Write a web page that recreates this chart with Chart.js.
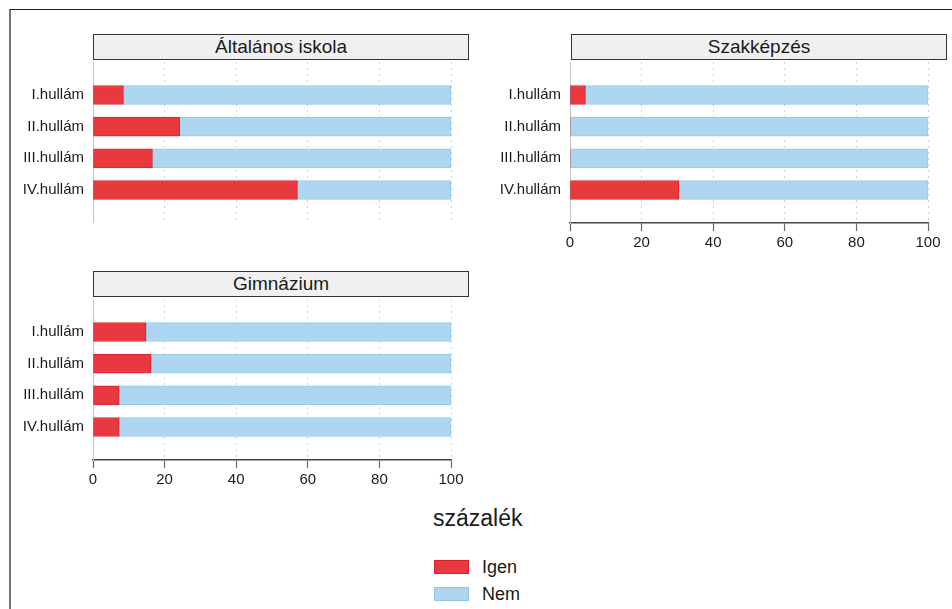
<!DOCTYPE html>
<html>
<head>
<meta charset="utf-8">
<script src="https://cdn.jsdelivr.net/npm/chart.js@4.4.1/dist/chart.umd.min.js"></script>
<style>
  body { margin: 0; background: #fff; font-family: "Liberation Sans", Arial, sans-serif; color: #1a1a1a; }
  #page { position: relative; width: 952px; height: 609px; overflow: hidden; }
  .frame { position: absolute; left: 9px; top: 9px; width: 960px; height: 620px;
           border-top: 1.5px solid #222; border-left: 2px solid #777; }
  .strip { position: absolute; height: 24px; background: #f0f0f0; border: 1.5px solid #333;
           font-size: 19px; line-height: 24px; text-align: center; box-sizing: content-box; }
  canvas { position: absolute; }
  .axis-title { position: absolute; left: 433px; top: 505px; font-size: 23px; }
  .key { position: absolute; left: 434px; width: 33px; height: 12px; }
  .key-label { position: absolute; left: 482px; font-size: 18px; }
</style>
</head>
<body>
<div id="page">
  <div class="frame"></div>

  <div class="strip" style="left:93px; top:34px; width:374px;">Általános iskola</div>
  <div class="strip" style="left:571px; top:34px; width:374px;">Szakképzés</div>
  <div class="strip" style="left:93px; top:271px; width:374px;">Gimnázium</div>

  <canvas id="altalanos" width="458" height="161" style="left:13px; top:62px;"></canvas>
  <canvas id="szakkepzes" width="458" height="201" style="left:490px; top:62px;"></canvas>
  <canvas id="gimnazium" width="458" height="201" style="left:13px; top:299px;"></canvas>

  <div class="axis-title">százalék</div>
  <div class="key" style="top:560px; background:#e8393f; border:1px solid #d8202a;"></div>
  <div class="key-label" style="top:557px;">Igen</div>
  <div class="key" style="top:587px; background:#aed6f1; border:1px solid #8ec6ee;"></div>
  <div class="key-label" style="top:584px;">Nem</div>
</div>

<script>
const waves = ['I.hullám', 'II.hullám', 'III.hullám', 'IV.hullám'];
const xTicks = [0, 20, 40, 60, 80, 100];

// share of "Igen" / "Nem" answers, percent
const altalanosIgen = [8.5, 24.2, 16.6, 57.1];
const altalanosNem = [91.5, 75.8, 83.4, 42.9];
const szakkepzesIgen = [4.3, 0, 0, 30.4];
const szakkepzesNem = [95.7, 100, 100, 69.6];
const gimnaziumIgen = [14.8, 16.2, 7.3, 7.3];
const gimnaziumNem = [85.2, 83.8, 92.7, 92.7];

const RED = '#e8393f', RED_LINE = '#d8202a';
const BLUE = '#aed6f1', BLUE_LINE = '#8ec6ee';
const FONT = '"Liberation Sans", Arial, sans-serif';

const toPoints = vals => vals.map((v, i) => ({ x: v, y: i }));

// drop the label overhang chart.js reserves, so the plot area is exactly what we place
const noOverhang = s => {
  s.paddingTop = 0; s.paddingBottom = 0; s.paddingLeft = 0; s.paddingRight = 0;
};

function makePanel(id, igen, nem, showAxis) {
  const ctx = document.getElementById(id).getContext('2d');
  return new Chart(ctx, {
    type: 'bar',
    data: {
      datasets: [
        {
          label: 'Igen', data: toPoints(igen),
          backgroundColor: RED, borderColor: RED_LINE,
          borderWidth: c => (c.raw && c.raw.x > 0 ? 1 : 0),
          borderSkipped: false, barThickness: 19
        },
        {
          label: 'Nem', data: toPoints(nem),
          backgroundColor: BLUE, borderColor: BLUE_LINE,
          borderWidth: 1, borderSkipped: false, barThickness: 19
        }
      ]
    },
    options: {
      indexAxis: 'y',
      responsive: false,
      animation: false,
      events: [],
      layout: { padding: { left: 0, right: 20, top: 0, bottom: 0 } },
      plugins: { legend: { display: false }, tooltip: { enabled: false } },
      scales: {
        x: {
          type: 'linear', stacked: true, min: 0, max: 100,
          afterBuildTicks: s => { s.ticks = xTicks.map(v => ({ value: v })); },
          afterFit: s => { s.height = showAxis ? 40 : 0; noOverhang(s); },
          grid: {
            color: '#cfcfcf', lineWidth: 1,
            drawTicks: showAxis, tickLength: 8, tickColor: '#666',
            tickBorderDash: [8, 0], tickWidth: 1.2
          },
          border: { display: showAxis, color: '#444', width: 1.5, dash: [2, 4] },
          ticks: {
            display: showAxis, padding: 3, color: '#1a1a1a',
            font: { family: FONT, size: 15 }, maxRotation: 0
          }
        },
        y: {
          type: 'linear', stacked: true, reverse: true, offset: false,
          min: -1.04, max: 4.04,
          afterBuildTicks: s => { s.ticks = waves.map((w, i) => ({ value: i })); },
          afterFit: s => { s.width = 80; noOverhang(s); },
          grid: { display: false, drawTicks: false, offset: false },
          border: { display: true, color: '#c4c4c4', width: 1 },
          ticks: {
            padding: 9, color: '#1a1a1a', font: { family: FONT, size: 15 },
            callback: v => waves[v]
          }
        }
      }
    }
  });
}

makePanel('altalanos', altalanosIgen, altalanosNem, false);
makePanel('szakkepzes', szakkepzesIgen, szakkepzesNem, true);
makePanel('gimnazium', gimnaziumIgen, gimnaziumNem, true);
</script>
</body>
</html>
